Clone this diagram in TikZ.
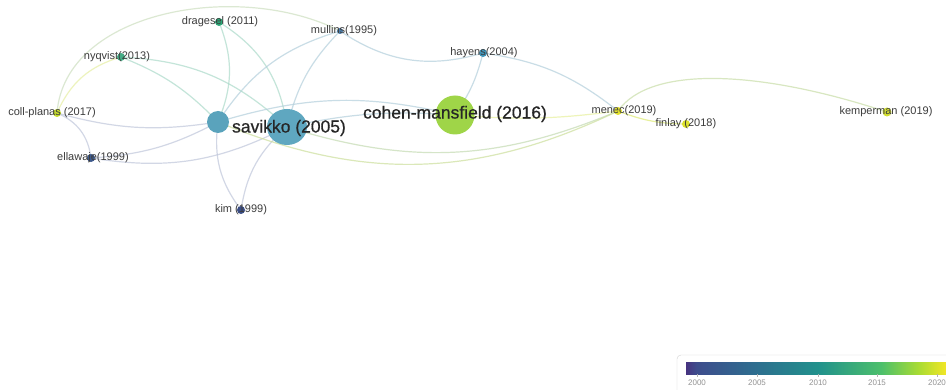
\documentclass[tikz,border=0pt]{standalone}
\usepackage{fontspec}
\setmainfont{Liberation Sans}
\newfontfamily\heavyfont[FakeBold=0.6]{Liberation Sans}
\usetikzlibrary{shapes.geometric}
\pgfdeclarelayer{background}
\pgfsetlayers{background,main}
\definecolor{cSav}{HTML}{5FA7C0}
\definecolor{cSavS}{HTML}{5AA3BC}
\definecolor{cCoh}{HTML}{9FD548}
\definecolor{cDrag}{HTML}{2BA877}
\definecolor{cNyq}{HTML}{45AD86}
\definecolor{cColl}{HTML}{C6DC2E}
\definecolor{cElla}{HTML}{3E5A8C}
\definecolor{cKim}{HTML}{3B4E86}
\definecolor{cMull}{HTML}{4B7DAA}
\definecolor{cHay}{HTML}{4095BA}
\definecolor{cMen}{HTML}{E3E22E}
\definecolor{cFin}{HTML}{DCE22C}
\definecolor{cKemp}{HTML}{D3DF30}
\definecolor{eSav}{HTML}{B3CFDC}
\definecolor{eDrag}{HTML}{ABDACA}
\definecolor{eColl}{HTML}{E6EFA2}
\definecolor{eGrey}{HTML}{C0C7DB}
\definecolor{eYel}{HTML}{DDEA72}
\definecolor{txt}{HTML}{262626}
\pgfdeclarehorizontalshading{viridis}{100bp}{rgb(0bp)=(0.28,0.20,0.50); rgb(25bp)=(0.28,0.20,0.50); rgb(27bp)=(0.24,0.30,0.55); rgb(38bp)=(0.18,0.43,0.56); rgb(50bp)=(0.13,0.57,0.55); rgb(62bp)=(0.30,0.75,0.42); rgb(69bp)=(0.66,0.86,0.20); rgb(75bp)=(0.99,0.91,0.14); rgb(100bp)=(0.99,0.91,0.14)}
\begin{document}
\begin{tikzpicture}[x=1pt,y=-1pt,
  bub/.style={circle,inner sep=0pt,draw=none},
  dot/.style={circle,inner sep=0pt,minimum size=8pt,draw=none},
  biglab/.style={text=txt,inner sep=0pt,font=\heavyfont\fontsize{17.5}{20}\selectfont},
  smlab/.style={text=txt!90,inner sep=0pt,font=\fontsize{11}{13}\selectfont},
  edge/.style={line width=1.2pt,opacity=0.7},
  tick/.style={font=\fontsize{8}{9}\selectfont,text=gray!85,inner sep=0pt}]
\useasboundingbox (0,0) rectangle (946,390);
% nodes
\node[bub,fill=cSavS,minimum size=22pt] (savS) at (218,122) {};
\node[ellipse,inner sep=0pt,fill=cSav,minimum width=40pt,minimum height=36pt] (savB) at (287,127) {};
\node[bub,fill=cCoh,minimum size=39pt] (coh) at (455,115) {};
\node[dot,fill=cDrag] (drag) at (219,22) {};
\node[dot,fill=cMull,minimum size=6pt] (mull) at (340,31) {};
\node[dot,fill=cNyq] (nyq) at (121,57) {};
\node[dot,fill=cColl] (coll) at (57,113) {};
\node[dot,fill=cElla] (ella) at (91,158) {};
\node[dot,fill=cKim] (kim) at (241,210) {};
\node[dot,fill=cHay] (hay) at (483,53) {};
\node[dot,fill=cMen] (men) at (618,111) {};
\node[dot,fill=cFin] (fin) at (686,124) {};
\node[dot,fill=cKemp,minimum size=9pt] (kemp) at (887,112) {};
% edges
\begin{pgfonlayer}{background}
\fill[white] (0,0) rectangle (946,390);
\draw[edge,eDrag] (drag.center) to[bend left=22] (savS.center);
\draw[edge,eDrag] (drag.center) to[bend left=25] (savB.center);
\draw[edge,eColl!50!eSav] (coll.center) .. controls (65,10) and (240,-20) .. (mull.center);
\draw[edge,eSav] (mull.center) to[bend right=20] (savS.center);
\draw[edge,eSav] (mull.center) to[bend right=15] (savB.center);
\draw[edge,eSav] (mull.center) to[bend right=25] (hay.center);
\draw[edge,eDrag] (nyq.center) to[bend left=20] (savB.center);
\draw[edge,eDrag] (nyq.center) to[bend left=12] (savS.center);
\draw[edge,eColl] (coll.center) to[bend left=25] (nyq.center);
\draw[edge,eGrey] (coll.center) to[bend right=12] (savS.center);
\draw[edge,eGrey] (coll.center) to[bend left=30] (ella.center);
\draw[edge,eGrey] (ella.center) to[bend right=12] (savS.center);
\draw[edge,eGrey] (ella.center) to[bend right=18] (savB.center);
\draw[edge,eGrey] (kim.center) to[bend left=22] (savS.center);
\draw[edge,eGrey] (kim.center) to[bend left=20] (savB.center);
\draw[edge,eSav] (savS.center) to[bend left=15] (coh.center);
\draw[edge,eSav] (savB.center) to[bend left=8] (coh.center);
\draw[edge,eSav!60!eYel] (savB.center) to[bend right=20] (men.center);
\draw[edge,eSav!40!eYel] (savS.center) to[bend right=24] (men.center);
\draw[edge,eSav] (coh.center) to[bend right=10] (hay.center);
\draw[edge,eSav] (hay.center) to[bend left=15] (men.center);
\draw[edge,eYel!70!white] (coh.center) to[bend right=6] (men.center);
\draw[edge,eYel!50!eSav] (men.center) .. controls (650,65) and (760,70) .. (kemp.center);
\draw[edge,eYel] (men.center) to[bend right=10] (fin.center);
\end{pgfonlayer}
% labels
\node[biglab] (savBl) at (289,128) {savikko (2005)};
\node[biglab] (cohl) at (455,114) {cohen-mansfield (2016)};
\node[smlab] (dragl) at (220,22) {dragesel (2011)};
\node[smlab] (mulll) at (344,31) {mullins(1995)};
\node[smlab] (nyql) at (117,57) {nyqvist(2013)};
\node[smlab] (colll) at (52,113) {coll-planas (2017)};
\node[smlab] (ellal) at (93,158) {ellawaje(1999)};
\node[smlab] (kiml) at (241,210) {kim (1999)};
\node[smlab] (hayl) at (484,53) {hayens(2004)};
\node[smlab] (menl) at (624,111) {menec(2019)};
\node[smlab] (finl) at (686,124) {finlay (2018)};
\node[smlab] (kempl) at (886,112) {kemperman (2019)};
% colour bar
\draw[rounded corners=4pt,draw=gray!35,fill=white] (677,355) rectangle (970,400);
\shade[shading=viridis] (686,362) rectangle (950,374);
\foreach \yr/\xx in {2000/697,2005/757,2010/818,2015/877,2020/937}{
  \draw[gray!60,line width=0.5pt] (\xx,374) -- (\xx,377);
  \node[tick] (t\yr) at (\xx,383) {\yr};
}
\end{tikzpicture}
\end{document}
